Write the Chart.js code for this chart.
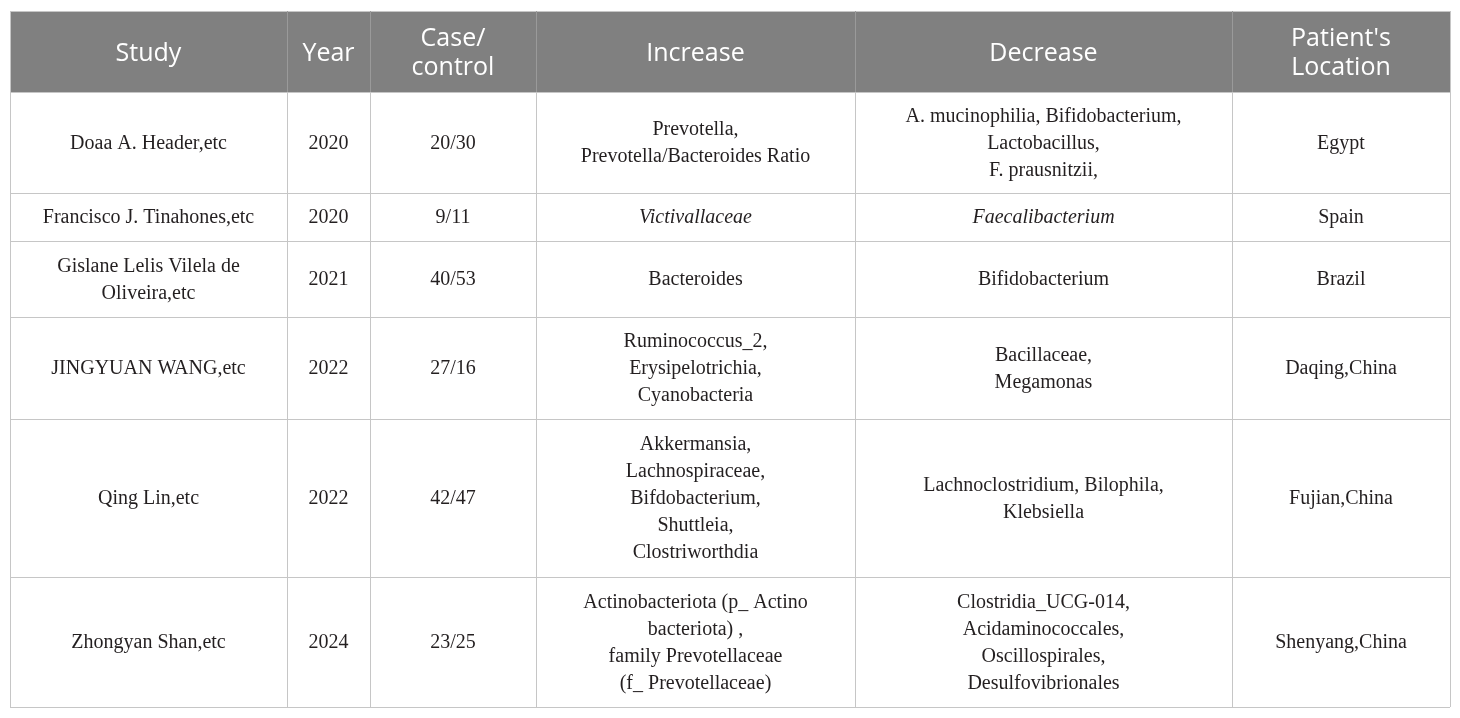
<!DOCTYPE html>
<html>
<head>
<meta charset="utf-8">
<script src="https://cdn.jsdelivr.net/npm/chart.js@4/dist/chart.umd.min.js"></script>
<style>
html,body{margin:0;padding:0;background:#fff;}
#wrap{width:1460px;height:718px;}
</style>
</head>
<body>
<div id="wrap"><canvas id="c" width="1460" height="718"></canvas></div>
<script>
// ---- data ----
const headers = [["Study"], ["Year"], ["Case/", "control"], ["Increase"], ["Decrease"], ["Patient's", "Location"]];
const studies = [["Doaa A. Header,etc"], ["Francisco J. Tinahones,etc"], ["Gislane Lelis Vilela de", "Oliveira,etc"], ["JINGYUAN WANG,etc"], ["Qing Lin,etc"], ["Zhongyan Shan,etc"]];
const years = ["2020", "2020", "2021", "2022", "2022", "2024"];
const caseControl = ["20/30", "9/11", "40/53", "27/16", "42/47", "23/25"];
const increase = [
  ["Prevotella,", "Prevotella/Bacteroides Ratio"],
  ["Victivallaceae"],
  ["Bacteroides"],
  ["Ruminococcus_2,", "Erysipelotrichia,", "Cyanobacteria"],
  ["Akkermansia,", "Lachnospiraceae,", "Bifdobacterium,", "Shuttleia,", "Clostriworthdia"],
  ["Actinobacteriota (p_ Actino", "bacteriota) ,", "family Prevotellaceae", "(f_ Prevotellaceae)"]
];
const decrease = [
  ["A. mucinophilia, Bifidobacterium,", "Lactobacillus,", "F. prausnitzii,"],
  ["Faecalibacterium"],
  ["Bifidobacterium"],
  ["Bacillaceae,", "Megamonas"],
  ["Lachnoclostridium, Bilophila,", "Klebsiella"],
  ["Clostridia_UCG-014,", "Acidaminococcales,", "Oscillospirales,", "Desulfovibrionales"]
];
const locations = ["Egypt", "Spain", "Brazil", "Daqing,China", "Fujian,China", "Shenyang,China"];
const italicRows = [false, true, false, false, false, false];

// ---- layout (grid edges in scale units) ----
const colEdges = [10, 287, 370, 536, 855, 1232, 1450];
const rowEdges = [11, 92, 193, 241, 317, 419, 577, 707];

const columns = [studies, years.map(v => [v]), caseControl.map(v => [v]), increase, decrease, locations.map(v => [v])];

const tablePlugin = {
  id: 'tablePlugin',
  afterDraw(chart) {
    const ctx = chart.ctx;
    const xs = chart.scales.x, ys = chart.scales.y;
    const X = v => Math.round(xs.getPixelForValue(v));
    const Y = v => Math.round(ys.getPixelForValue(v));
    ctx.save();
    // header background
    ctx.fillStyle = '#808080';
    ctx.fillRect(X(colEdges[0]), Y(rowEdges[0]), X(colEdges[colEdges.length - 1]) - X(colEdges[0]), Y(rowEdges[1]) - Y(rowEdges[0]));
    // grid lines
    ctx.strokeStyle = '#c6c6c6';
    ctx.lineWidth = 1;
    rowEdges.forEach(r => {
      ctx.beginPath();
      ctx.moveTo(X(colEdges[0]), Y(r) + 0.5);
      ctx.lineTo(X(colEdges[colEdges.length - 1]), Y(r) + 0.5);
      ctx.stroke();
    });
    colEdges.forEach(c => {
      ctx.beginPath();
      ctx.moveTo(X(c) + 0.5, Y(rowEdges[0]));
      ctx.lineTo(X(c) + 0.5, Y(rowEdges[rowEdges.length - 1]));
      ctx.stroke();
    });
    ctx.strokeStyle = '#9a9a9a';
    colEdges.slice(1, -1).forEach(c => {
      ctx.beginPath();
      ctx.moveTo(X(c) + 0.5, Y(rowEdges[0]));
      ctx.lineTo(X(c) + 0.5, Y(rowEdges[1]));
      ctx.stroke();
    });
    ctx.textAlign = 'center';
    ctx.textBaseline = 'middle';
    // header text
    ctx.fillStyle = '#ffffff';
    ctx.font = '25px "Open Sans", "Noto Sans", sans-serif';
    headers.forEach((lines, ci) => {
      const cx = (X(colEdges[ci]) + X(colEdges[ci + 1])) / 2;
      const cy = (Y(rowEdges[0]) + Y(rowEdges[1])) / 2 + 2;
      const lh = 29;
      lines.forEach((t, li) => {
        ctx.fillText(t, cx, cy + (li - (lines.length - 1) / 2) * lh);
      });
    });
    // body text
    ctx.fillStyle = '#231f20';
    columns.forEach((col, ci) => {
      const cx = (X(colEdges[ci]) + X(colEdges[ci + 1])) / 2;
      col.forEach((lines, ri) => {
        const cy = (Y(rowEdges[ri + 1]) + Y(rowEdges[ri + 2])) / 2 + 1;
        const it = italicRows[ri] && (ci === 3 || ci === 4);
        ctx.font = (it ? 'italic ' : '') + '20px "Liberation Serif", "Times New Roman", serif';
        const lh = 27;
        lines.forEach((t, li) => {
          ctx.fillText(t, cx, cy + (li - (lines.length - 1) / 2) * lh);
        });
      });
    });
    ctx.restore();
  }
};

new Chart(document.getElementById('c'), {
  type: 'scatter',
  data: { datasets: [{ data: [], pointRadius: 0 }] },
  options: {
    responsive: false,
    animation: false,
    layout: { padding: 0 },
    plugins: { legend: { display: false }, tooltip: { enabled: false } },
    scales: {
      x: { type: 'linear', min: 0, max: 1460, display: false },
      y: { type: 'linear', min: 0, max: 718, reverse: true, display: false }
    }
  },
  plugins: [tablePlugin]
});
</script>
</body>
</html>
